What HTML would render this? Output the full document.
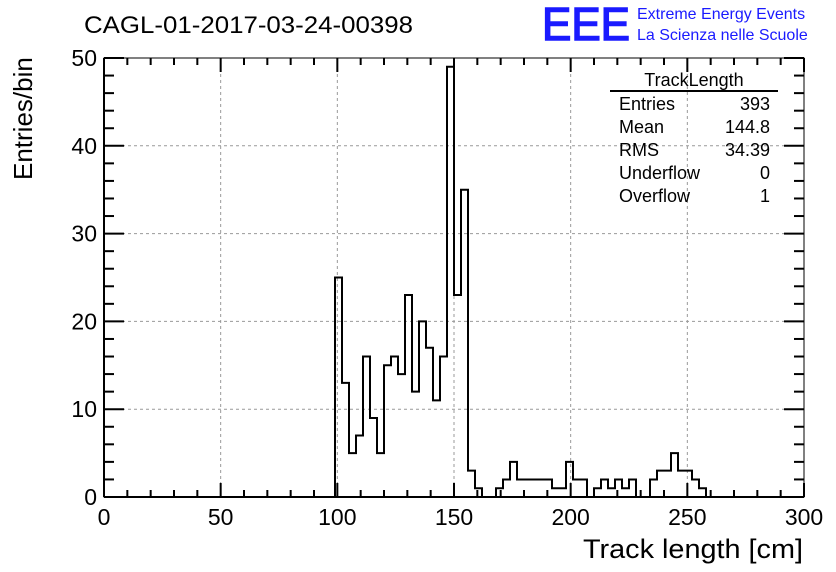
<!DOCTYPE html>
<html><head><meta charset="utf-8"><style>
body{margin:0;background:#fff;}
svg{display:block;font-family:"Liberation Sans",sans-serif;}
</style></head><body>
<svg id="c" width="836" height="572">
<rect width="836" height="572" fill="#fff"/>
<text x="84" y="33" font-size="24" textLength="329" lengthAdjust="spacingAndGlyphs">CAGL-01-2017-03-24-00398</text>
<g>
<text x="542" y="40" font-size="46" fill="#1a1aff" stroke="#1a1aff" stroke-width="1.5" textLength="88" lengthAdjust="spacingAndGlyphs">EEE</text>
<text x="637" y="19" font-size="16" fill="#1a1aff">Extreme Energy Events</text>
<text x="637" y="40" font-size="16" fill="#1a1aff">La Scienza nelle Scuole</text>
</g>
<g id="grid"></g>
<g id="hist"></g>
<g id="axes"></g>
<text x="803" y="558" font-size="27" text-anchor="end" textLength="220" lengthAdjust="spacingAndGlyphs">Track length [cm]</text>
<text transform="translate(32,180) rotate(-90)" font-size="26">Entries/bin</text>
<g font-size="18">
<text x="694" y="86" text-anchor="middle">TrackLength</text>
<line x1="610" y1="91" x2="778" y2="91" stroke="#000" stroke-width="2"/>
<text x="619" y="110">Entries</text><text x="770" y="110" text-anchor="end">393</text>
<text x="619" y="133">Mean</text><text x="770" y="133" text-anchor="end">144.8</text>
<text x="619" y="156">RMS</text><text x="770" y="156" text-anchor="end">34.39</text>
<text x="619" y="179">Underflow</text><text x="770" y="179" text-anchor="end">0</text>
<text x="619" y="202">Overflow</text><text x="770" y="202" text-anchor="end">1</text>
</g>
</svg>
<script>
const binStart = 0;
const binWidth = 3;
const counts = [
0,0,0,0,0,0,0,0,0,0, 0,0,0,0,0,0,0,0,0,0, 0,0,0,0,0,0,0,0,0,0, 0,0,0,
25,13,5,7,16,9,5,15,16,14,23,12,20,17,11,16,49,23,35,3,1,
0,0,1,2,4,2,2,2,2,2,1,1,4,2,2,0,1,2,1,2,1,2,0,0,2,3,3,5,3,3,2,1,0,
0,0,0,0,0,0,0,0,0,0,0,0,0];
const xTicks = [0,50,100,150,200,250,300];
const yTicks = [0,10,20,30,40,50];
const NS="http://www.w3.org/2000/svg";
const X0=104,X1=804,Y0=497,Y1=58;
const xs=v=>X0+(v-0)/(300-0)*(X1-X0);
const ys=v=>Y0-(v/50)*(Y0-Y1);
function mk(tag,attrs,parent){const e=document.createElementNS(NS,tag);for(const k in attrs)e.setAttribute(k,attrs[k]);parent.appendChild(e);return e;}
const grid=document.getElementById('grid'),hist=document.getElementById('hist'),axes=document.getElementById('axes');
xTicks.forEach(t=>{if(t>0&&t<300){const l=mk('line',{x1:xs(t),x2:xs(t),y1:Y0,y2:Y1,stroke:'#999','stroke-dasharray':'3,3'},grid);

}});
yTicks.forEach(t=>{if(t>0){const l=mk('line',{x1:X0,x2:X1,y1:ys(t),y2:ys(t),stroke:'#999','stroke-dasharray':'3,3'},grid);

}});
let d='M'+xs(binStart)+','+ys(0);
counts.forEach((c,i)=>{const a=binStart+i*binWidth,b=a+binWidth;d+=' L'+xs(a)+','+ys(c)+' L'+xs(b)+','+ys(c);});
d+=' L'+xs(binStart+counts.length*binWidth)+','+ys(0);
const p=mk('path',{d:d,fill:'none',stroke:'#000','stroke-width':2},hist);


const fr=mk('rect',{x:X0,y:Y1,width:X1-X0,height:Y0-Y1,fill:'none',stroke:'#000','stroke-width':1},axes);


mk('line',{x1:X0,x2:X1,y1:Y0,y2:Y0,stroke:'#000','stroke-width':2},axes);
mk('line',{x1:X0,x2:X0,y1:Y0,y2:Y1,stroke:'#000','stroke-width':2},axes);
for(let v=0;v<=300;v+=10){const L=v%50===0?14:7;
mk('line',{x1:xs(v),x2:xs(v),y1:Y0,y2:Y0-L,stroke:'#000','stroke-width':2},axes);
mk('line',{x1:xs(v),x2:xs(v),y1:Y1,y2:Y1+L,stroke:'#000','stroke-width':2},axes);}
for(let v=0;v<=50;v+=2){const L=v%10===0?20:10;
mk('line',{x1:X0,x2:X0+L,y1:ys(v),y2:ys(v),stroke:'#000','stroke-width':2},axes);
mk('line',{x1:X1,x2:X1-L,y1:ys(v),y2:ys(v),stroke:'#000','stroke-width':2},axes);}
xTicks.forEach(t=>{const e=mk('text',{x:xs(t),y:525,'font-size':23,'text-anchor':'middle'},axes);e.textContent=t;

});
yTicks.forEach(t=>{const e=mk('text',{x:97,y:ys(t)+8,'font-size':23,'text-anchor':'end'},axes);e.textContent=t;

});
</script>
</body></html>
